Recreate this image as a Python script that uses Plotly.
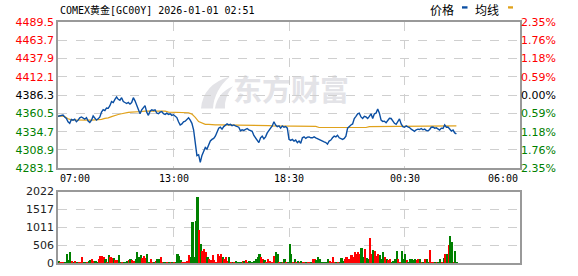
import plotly.graph_objects as go

# ---------------- data ----------------
title_text = "COMEX黄金[GC00Y] 2026-01-01 02:51"
prev_close = 4386.3
price_ticks = [4283.1, 4308.9, 4334.7, 4360.5, 4386.3, 4412.1, 4437.9, 4463.7, 4489.5]
price_tick_labels = ["4283.1", "4308.9", "4334.7", "4360.5", "4386.3", "4412.1", "4437.9", "4463.7", "4489.5"]
pct_tick_labels = ["2.35%", "1.76%", "1.18%", "0.59%", "0.00%", "0.59%", "1.18%", "1.76%", "2.35%"]
vol_ticks = [0, 506, 1011, 1517, 2022]
vol_tick_labels = ["0", "506", "1011", "1517", "2022"]
time_labels = ["07:00", "13:00", "18:30", "00:30", "06:00"]
time_label_min = [0, 345, 690, 1035, 1380]   # minutes after 07:00 on the chart's axis
session_minutes = 1380
price_step_min = 5
avg_step_min = 10

price = [
    4356.4, 4357.0, 4357.3, 4358.2, 4355.5, 4353.3, 4348.7, 4346.5, 4351.9, 4351.0,
    4352.4, 4348.7, 4351.0, 4354.2, 4355.5, 4353.3, 4352.4, 4354.6, 4349.6, 4347.8,
    4351.0, 4356.9, 4353.3, 4351.0, 4352.8, 4355.5, 4362.3, 4365.9, 4364.6, 4368.2,
    4367.7, 4371.4, 4377.2, 4375.9, 4380.4, 4383.6, 4380.4, 4379.1, 4382.7, 4377.2,
    4375.9, 4374.5, 4375.9, 4373.6, 4375.9, 4382.7, 4378.2, 4371.4, 4364.6, 4360.0,
    4365.5, 4368.2, 4371.4, 4362.3, 4357.8, 4363.7, 4365.5, 4364.6, 4365.5, 4361.0,
    4360.0, 4362.3, 4363.2, 4360.0, 4359.1, 4360.9, 4359.1, 4360.0, 4357.8, 4358.7,
    4356.4, 4354.6, 4348.7, 4344.2, 4345.6, 4348.7, 4349.6, 4351.9, 4354.2, 4351.0,
    4346.5, 4337.4, 4317.1, 4301.0, 4302.2, 4291.3, 4301.2, 4308.0, 4312.5, 4310.3,
    4317.1, 4321.6, 4323.8, 4325.2, 4328.4, 4335.2, 4339.7, 4341.0, 4338.3, 4341.9,
    4344.2, 4345.6, 4344.2, 4345.1, 4343.3, 4344.2, 4342.8, 4341.9, 4341.0, 4336.1,
    4337.4, 4336.5, 4338.3, 4339.2, 4337.4, 4336.5, 4335.2, 4329.3, 4326.1, 4323.8,
    4319.3, 4326.1, 4328.4, 4324.7, 4327.4, 4332.9, 4337.4, 4339.7, 4342.8, 4348.7,
    4344.2, 4341.9, 4342.8, 4339.7, 4342.8, 4341.0, 4341.9, 4339.7, 4323.8, 4322.4,
    4323.8, 4321.5, 4322.9, 4319.3, 4321.5, 4318.4, 4326.1, 4327.4, 4325.2, 4327.0,
    4327.4, 4326.1, 4326.1, 4327.4, 4326.1, 4324.7, 4323.8, 4322.4, 4321.5, 4320.2,
    4319.3, 4317.1, 4321.5, 4322.9, 4326.1, 4328.4, 4327.4, 4329.7, 4326.1, 4324.7,
    4323.8, 4325.2, 4328.4, 4339.7, 4342.8, 4344.2, 4345.6, 4353.3, 4356.4, 4360.0,
    4360.9, 4355.5, 4353.3, 4356.4, 4355.5, 4353.3, 4356.4, 4360.0, 4353.3, 4360.0,
    4360.9, 4366.8, 4360.9, 4351.0, 4349.2, 4349.6, 4347.4, 4350.1, 4353.7, 4353.3,
    4349.6, 4346.5, 4345.1, 4349.6, 4352.8, 4345.6, 4341.9, 4341.0, 4342.8, 4341.4,
    4340.6, 4338.3, 4336.1, 4335.2, 4337.4, 4338.3, 4337.8, 4339.2, 4337.4, 4338.3,
    4336.5, 4335.6, 4337.8, 4341.0, 4341.4, 4339.7, 4340.1, 4338.3, 4337.0, 4339.7,
    4339.2, 4344.2, 4341.0, 4341.4, 4338.7, 4335.6, 4337.0, 4332.9, 4331.5,
]

avg_price = [
    4356.4, 4357.0, 4356.0, 4353.0, 4351.5, 4351.2, 4351.0, 4351.0, 4351.0, 4351.0,
    4351.0, 4351.0, 4351.2, 4352.0, 4353.5, 4354.2, 4356.0, 4357.8, 4359.0, 4360.0,
    4361.4, 4362.0, 4362.3, 4362.3, 4363.0, 4363.2, 4363.7, 4363.7, 4363.7, 4363.7,
    4363.7, 4363.7, 4363.7, 4362.3, 4362.3, 4362.3, 4362.3, 4361.4, 4361.4, 4361.4,
    4359.5, 4355.0, 4349.0, 4347.0, 4345.1, 4345.1, 4344.2, 4344.2, 4344.2, 4344.2,
    4344.2, 4344.2, 4344.2, 4344.2, 4344.2, 4344.2, 4344.2, 4344.2, 4344.2, 4343.3,
    4343.3, 4343.3, 4343.3, 4343.3, 4342.8, 4342.8, 4342.8, 4342.8, 4342.8, 4342.8,
    4342.2, 4342.2, 4342.2, 4342.2, 4342.2, 4342.2, 4342.2, 4342.2, 4340.6, 4340.6,
    4340.6, 4340.6, 4340.6, 4340.6, 4340.6, 4340.6, 4340.6, 4340.6, 4340.6, 4340.6,
    4340.6, 4340.6, 4340.6, 4341.9, 4341.9, 4341.9, 4341.9, 4342.8, 4342.8, 4342.8,
    4342.8, 4342.8, 4342.8, 4342.8, 4342.8, 4342.8, 4342.8, 4342.8, 4342.8, 4342.8,
    4342.8, 4342.8, 4342.8, 4342.8, 4342.8, 4342.8, 4342.8, 4342.8, 4342.8, 4342.8,
]

volume = [
    75, 28, 28, 28, 28, 262, 94, 318, 75, 28,
    75, 28, 28, 28, 187, 40, 30, 45, 75, 94,
    131, 75, 60, 28, 131, 215, 206, 168, 112, 50,
    234, 187, 140, 140, 94, 94, 234, 47, 47, 28,
    47, 75, 94, 131, 94, 75, 131, 318, 187, 225,
    140, 215, 150, 262, 47, 112, 28, 28, 75, 131,
    112, 187, 28, 28, 28, 47, 28, 20, 20, 20,
    20, 262, 206, 94, 28, 28, 28, 75, 234, 168,
    1160, 168, 1198, 1891, 936, 543, 356, 412, 318, 168,
    131, 94, 234, 94, 47, 262, 206, 281, 187, 131,
    187, 75, 168, 28, 28, 28, 75, 28, 28, 28,
    75, 75, 94, 47, 75, 28, 28, 75, 131, 168,
    262, 187, 131, 94, 28, 112, 75, 28, 28, 206,
    337, 262, 28, 47, 28, 112, 28, 28, 543, 262,
    28, 112, 28, 75, 28, 75, 47, 47, 47, 28,
    28, 28, 112, 131, 94, 168, 112, 47, 28, 28,
    28, 112, 75, 28, 168, 28, 28, 28, 28, 150,
    75, 131, 187, 131, 131, 225, 168, 318, 262, 328,
    281, 449, 168, 412, 150, 112, 730, 262, 393, 356,
    206, 262, 225, 131, 337, 168, 131, 94, 131, 28,
    75, 131, 356, 131, 47, 356, 131, 262, 94, 28,
    112, 112, 94, 131, 94, 112, 131, 28, 28, 131,
    112, 28, 374, 28, 28, 28, 28, 28, 131, 28,
    150, 262, 281, 524, 768, 618, 47, 356, 47,
]

# ---------------- styling ----------------
W, H = 578, 276
L, R, T, B = 58, 58, 22, 6
PW, PH = W - L - R, H - T - B
RED, GREEN, NEUTRAL = "#ff0000", "#008000", "#000000"
PRICE_C, AVG_C = "#0b4fa3", "#e0a21c"
GRID_C, FRAME_C = "#cfcfcf", "#999999"
WM_C = "#e3e3e7"
TICK_FONT = dict(family="DejaVu Sans", size=11)
MONO_FONT = "DejaVu Sans Mono, Noto Sans CJK SC"

def py(y_px):          # pixel row -> paper y
    return (H - B - y_px) / PH

def px(x_px):          # pixel column -> paper x
    return (x_px - L) / PW

main_dom = [py(172.5), 1.0]
vol_dom = [0.0, py(196.5)]

price_x = [i * price_step_min for i in range(len(price))]
avg_x = [i * avg_step_min for i in range(len(avg_price))]
vol_x = [i * price_step_min for i in range(len(volume))]

def tick_color(v):
    if abs(v - prev_close) < 1e-6:
        return NEUTRAL
    return RED if v > prev_close else GREEN

left_text = [f'<span style="color:{tick_color(v)}">{t}</span>' for v, t in zip(price_ticks, price_tick_labels)]
right_text = [f'<span style="color:{tick_color(v)}">{t}</span>' for v, t in zip(price_ticks, pct_tick_labels)]

bar_colors = []
for i, v in enumerate(price):
    prev = price[i - 1] if i > 0 else prev_close
    bar_colors.append(RED if v >= prev else GREEN)

fig = go.Figure()

fig.add_trace(go.Scatter(x=avg_x, y=avg_price, mode="lines", line=dict(color=AVG_C, width=1.2),
                         xaxis="x", yaxis="y", hoverinfo="skip", showlegend=False))
fig.add_trace(go.Scatter(x=price_x, y=price, mode="lines", line=dict(color=PRICE_C, width=1.4),
                         xaxis="x", yaxis="y", showlegend=False))
# invisible twin on the percentage axis so it renders
fig.add_trace(go.Scatter(x=price_x, y=price, mode="lines", line=dict(width=0), opacity=0,
                         xaxis="x", yaxis="y2", hoverinfo="skip", showlegend=False))
fig.add_trace(go.Bar(x=vol_x, y=volume, marker=dict(color=bar_colors, line=dict(width=0)),
                     width=price_step_min, offset=0,
                     xaxis="x2", yaxis="y3", showlegend=False))

grid_common = dict(showgrid=True, gridcolor=GRID_C, griddash="dash", gridwidth=1,
                   showline=True, linecolor=FRAME_C, linewidth=1.5, mirror=True,
                   zeroline=False, ticks="")

fig.update_layout(
    width=W, height=H,
    margin=dict(l=L, r=R, t=T, b=B, pad=0),
    paper_bgcolor="white", plot_bgcolor="white",
    bargap=0,
    xaxis=dict(domain=[0, 1], range=[0, session_minutes], anchor="y",
               tickvals=time_label_min[1:-1], showticklabels=False, **grid_common),
    yaxis=dict(domain=main_dom, range=[price_ticks[0], price_ticks[-1]], anchor="x",
               tickvals=price_ticks, ticktext=left_text, tickfont=TICK_FONT, **grid_common),
    yaxis2=dict(overlaying="y", side="right", anchor="x", range=[price_ticks[0], price_ticks[-1]],
                tickvals=price_ticks, ticktext=right_text, tickfont=TICK_FONT,
                showgrid=False, zeroline=False, showline=False, ticks=""),
    xaxis2=dict(domain=[0, 1], range=[0, session_minutes], anchor="y3",
                tickvals=time_label_min[1:-1], showticklabels=False, **grid_common),
    yaxis3=dict(domain=vol_dom, range=[vol_ticks[0], vol_ticks[-1]], anchor="x2",
                tickvals=vol_ticks, ticktext=vol_tick_labels,
                tickfont=dict(family="DejaVu Sans", size=11, color="#222222"), **grid_common),
)

ann = []
ann.append(dict(xref="paper", yref="paper", x=0, y=py(9.5), xanchor="left", yanchor="middle",
                text=title_text, showarrow=False,
                font=dict(family=MONO_FONT, size=10, color="#000000")))
ann.append(dict(xref="paper", yref="paper", x=px(455.5), y=py(9.5), xanchor="right", yanchor="middle",
                text="价格", showarrow=False,
                font=dict(family="Noto Sans CJK SC", size=12, color="#000000")))
ann.append(dict(xref="paper", yref="paper", x=px(501), y=py(9.5), xanchor="right", yanchor="middle",
                text="均线", showarrow=False,
                font=dict(family="Noto Sans CJK SC", size=12, color="#000000")))
for i, (lab, m) in enumerate(zip(time_labels, time_label_min)):
    anchor = "left" if i == 0 else ("right" if i == len(time_labels) - 1 else "center")
    ann.append(dict(xref="x", yref="paper", x=m, y=py(183.5), xanchor=anchor, yanchor="middle",
                    text=lab, showarrow=False,
                    font=dict(family=MONO_FONT, size=10, color="#000000")))
fig.update_layout(annotations=ann)

def pt(x, y):
    return f"{px(x):.4f},{py(y):.4f}"

logo_path = ("M " + pt(201, 111) + " Q " + pt(203, 86) + " " + pt(230, 78) +
             " Q " + pt(214, 92) + " " + pt(213, 111) + " Z" +
             " M " + pt(215, 111) + " Q " + pt(217, 95) + " " + pt(233, 88) +
             " Q " + pt(224, 99) + " " + pt(225, 111) + " Z")

shapes = [
    dict(type="rect", xref="paper", yref="paper", x0=px(462), x1=px(467.5), y0=py(8.2), y1=py(5.8),
         fillcolor=PRICE_C, line=dict(width=0)),
    dict(type="rect", xref="paper", yref="paper", x0=px(508), x1=px(513), y0=py(8.2), y1=py(5.8),
         fillcolor=AVG_C, line=dict(width=0)),
    # watermark logo + text
    dict(type="path", xref="paper", yref="paper", path=logo_path,
         fillcolor=WM_C, line=dict(width=0), layer="below"),
    dict(type="rect", xref="paper", yref="paper", x0=px(234), x1=px(348), y0=py(114), y1=py(76),
         line=dict(width=0), fillcolor="rgba(0,0,0,0)", layer="below",
         label=dict(text="<b>东方财富</b>", textposition="middle center",
                    font=dict(family="Noto Sans CJK SC", size=29, color=WM_C))),
]
fig.update_layout(shapes=shapes)

fig.write_html("out.html")
